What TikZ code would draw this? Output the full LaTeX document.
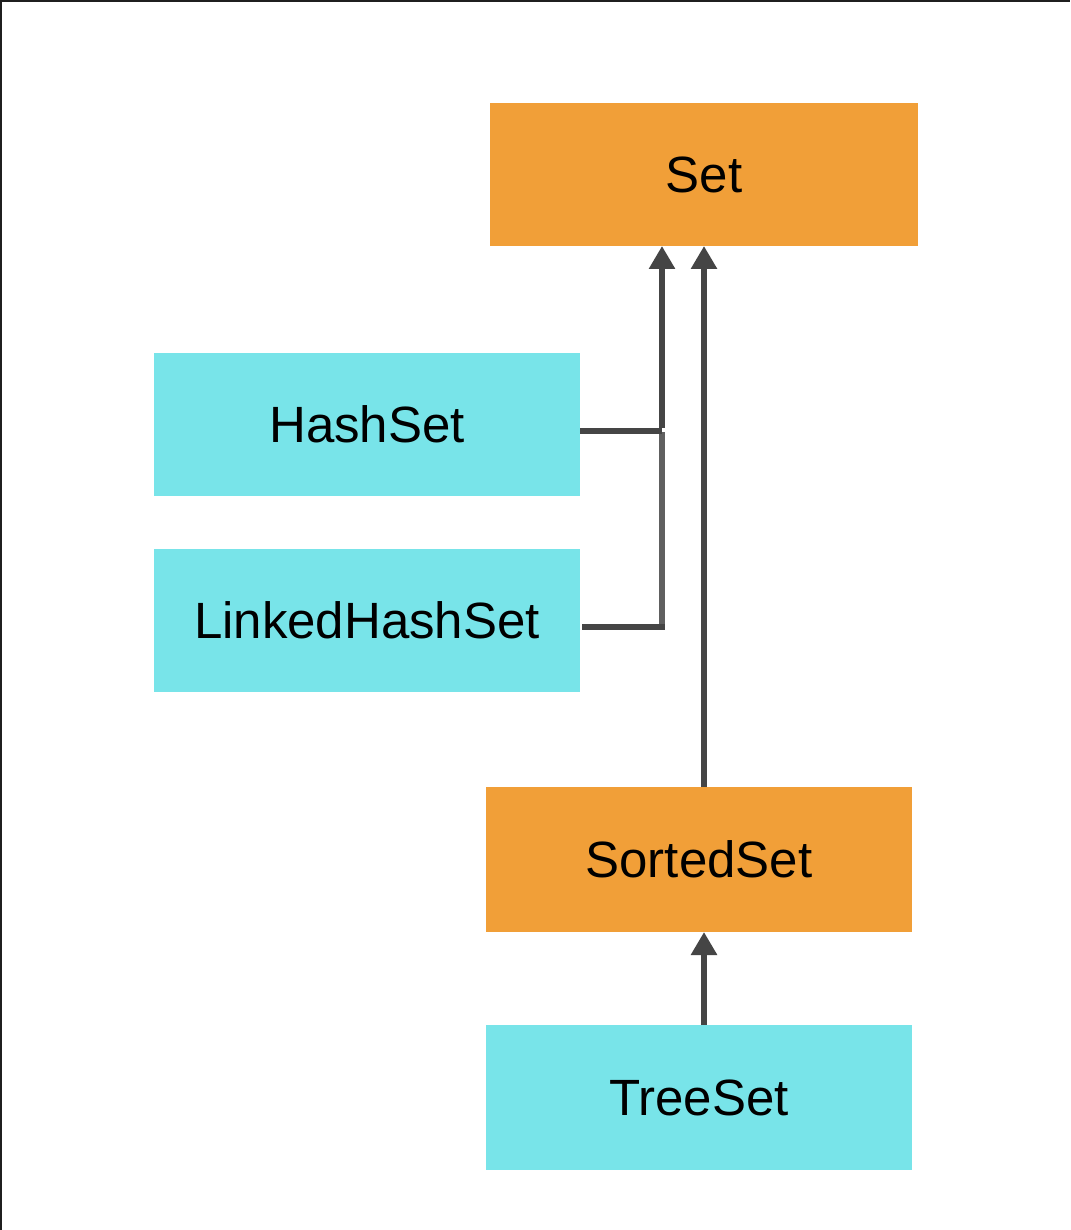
\documentclass[tikz,border=0pt]{standalone}
\usepackage{fontspec}
\setmainfont{Liberation Sans}
\usetikzlibrary{arrows.meta}
\definecolor{ifaceorange}{HTML}{F19F38}
\definecolor{implcyan}{HTML}{78E4E9}
\definecolor{wire}{HTML}{454545}
\definecolor{wirelight}{HTML}{606060}
\begin{document}
\begin{tikzpicture}[x=1pt,y=-1pt,
  box/.style={minimum width=#1, minimum height=143pt, inner sep=0pt, outer sep=0pt,
    font=\fontsize{51}{60}\selectfont, text=black},
  iface/.style={box=428pt, fill=ifaceorange},
  impl/.style={box=426pt, fill=implcyan},
  link/.style={draw=wire, line width=6pt},
  inherit/.style={link, -{Triangle[length=23pt,width=25pt]}}]
  \useasboundingbox (0,0) rectangle (1070,1230);
  \fill[white] (0,0) rectangle (1070,1230);
  % frame edges
  \fill[black!88] (0,0) rectangle (1070,2);
  \fill[black!88] (0,0) rectangle (2,1230);

  \node[iface] (set) at (704,174.5) {Set};
  \node[impl] (hash) at (367,424.5) {HashSet};
  \node[impl] (linked) at (367,620.5) {LinkedHashSet};
  \node[iface, minimum width=426pt, minimum height=145pt] (sorted) at (699,859.5) {SortedSet};
  \node[impl, minimum height=145pt] (tree) at (699,1097.5) {TreeSet};

  \coordinate (j1) at (662,431);
  \coordinate (j2) at (662,627);

  % HashSet and LinkedHashSet join into one arrow
  \draw[draw=wirelight, line width=6pt] ([yshift=-1pt]j1) -- ([yshift=3pt]j2);
  \draw[link] (hash.east |- j1) -- (j1);
  \draw[link] ([xshift=2pt]linked.east |- j2) -- ([xshift=3pt]j2);
  \draw[inherit] ([yshift=3pt]j1) -- (j1 |- set.south);

  % SortedSet extends Set, TreeSet implements SortedSet
  \draw[inherit] (set.south |- sorted.north) -- (set.south);
  \draw[inherit] (set.south |- tree.north) -- (set.south |- sorted.south);
\end{tikzpicture}
\end{document}
